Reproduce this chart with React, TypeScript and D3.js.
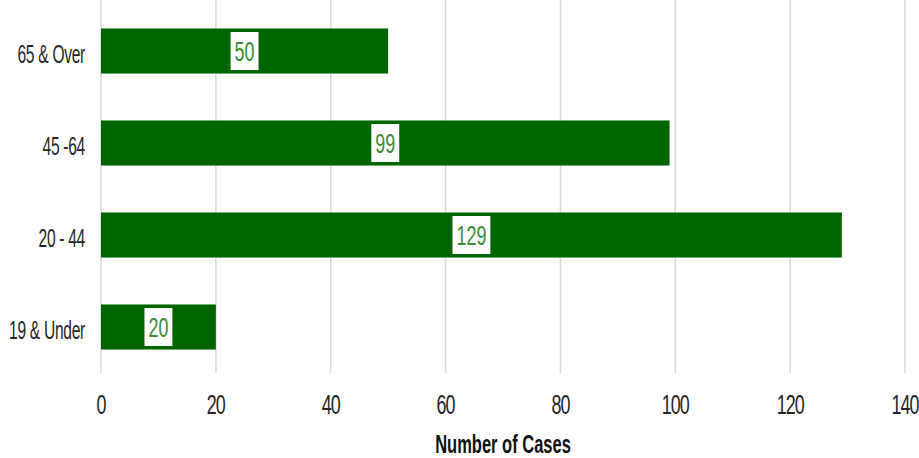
import { useEffect, useRef } from 'react';
import * as d3 from 'd3';

// Age groups, top to bottom
const categories = ['65 & Over', '45 -64', '20 - 44', '19 & Under'];
const cases = [50, 99, 129, 20];
const xTicks = [0, 20, 40, 60, 80, 100, 120, 140];

const FONT = '"Liberation Sans", Arial, sans-serif';

const App = () => {
  const chartRef = useRef<SVGSVGElement>(null);

  useEffect(() => {
    if (!chartRef.current) return;
    d3.select(chartRef.current).selectAll('*').remove();

    const width = 919;
    const height = 458;
    const margin = { top: 5, right: 14, bottom: 85, left: 101 };

    const svg = d3
      .select(chartRef.current)
      .attr('width', width)
      .attr('height', height)
      .style('font-family', FONT);

    const x = d3
      .scaleLinear()
      .domain([0, 140])
      .range([margin.left, width - margin.right]);

    const y = d3
      .scaleBand<string>()
      .domain(categories)
      .range([margin.top, height - margin.bottom])
      .paddingInner(0.51)
      .paddingOuter(0.255);

    const plotBottom = height - margin.bottom;

    // narrow text: squeeze horizontally around the anchor point
    const narrow = (
      g: d3.Selection<SVGGElement, unknown, null, undefined>,
      tx: number,
      ty: number,
      sx: number
    ) => g.append('text').attr('transform', `translate(${tx},${ty}) scale(${sx},1)`);

    // Gridlines
    svg
      .append('g')
      .selectAll('line')
      .data(xTicks)
      .join('line')
      .attr('x1', (d) => x(d))
      .attr('x2', (d) => x(d))
      .attr('y1', 0)
      .attr('y2', plotBottom)
      .attr('stroke', '#d9d9d9')
      .attr('stroke-width', 1.5);

    // Bars
    svg
      .append('g')
      .selectAll('rect')
      .data(categories)
      .join('rect')
      .attr('x', x(0))
      .attr('y', (d) => y(d)!)
      .attr('width', (_, i) => x(cases[i]) - x(0))
      .attr('height', y.bandwidth())
      .attr('fill', '#006400');

    // Value labels with white boxes
    const labels = svg.append('g');
    categories.forEach((c, i) => {
      const cx = x(cases[i] / 2);
      const cy = y(c)! + y.bandwidth() / 2;
      const box = labels.append('rect').attr('fill', '#ffffff');
      const t = narrow(labels, cx, cy, 0.64)
        .attr('dy', '0.36em')
        .attr('text-anchor', 'middle')
        .attr('font-size', 28)
        .attr('fill', '#3a8a3a')
        .text(String(cases[i]));
      const bb = (t.node() as SVGTextElement).getBBox();
      const w = bb.width * 0.64 + 8;
      box
        .attr('x', cx - w / 2)
        .attr('y', cy - 19)
        .attr('width', w)
        .attr('height', 38);
    });

    // Category labels
    const catG = svg.append('g');
    categories.forEach((c) => {
      narrow(catG, margin.left - 16, y(c)! + y.bandwidth() / 2 + 3, 0.6)
        .attr('dy', '0.35em')
        .attr('text-anchor', 'end')
        .attr('font-size', 26)
        .attr('letter-spacing', -0.5)
        .attr('fill', '#262626')
        .text(c);
    });

    // X tick labels
    const tickG = svg.append('g');
    xTicks.forEach((d) => {
      narrow(tickG, x(d), plotBottom + 31, 0.64)
        .attr('dy', '0.35em')
        .attr('text-anchor', 'middle')
        .attr('font-size', 28)
        .attr('letter-spacing', -1.5)
        .attr('fill', '#262626')
        .text(d);
    });

    // Axis title
    narrow(svg as unknown as d3.Selection<SVGGElement, unknown, null, undefined>, (x(0) + x(140)) / 2, plotBottom + 71, 0.66)
      .attr('dy', '0.35em')
      .attr('text-anchor', 'middle')
      .attr('font-size', 25)
      .attr('font-weight', 'bold')
      .attr('fill', '#111111')
      .text('Number of Cases');
  }, []);

  return (
    <div style={{ position: 'absolute', top: 0, left: 0, background: '#fff' }}>
      <svg ref={chartRef} style={{ display: 'block' }} />
    </div>
  );
};

export default App;
